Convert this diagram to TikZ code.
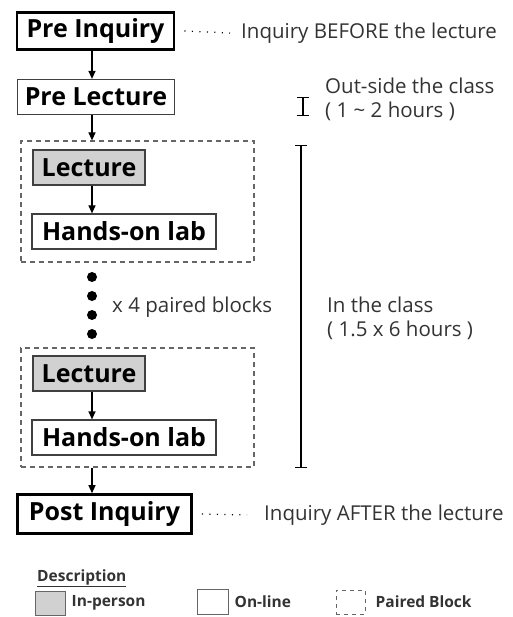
\documentclass[tikz,border=0pt]{standalone}
\usepackage{fontspec}
\setmainfont{Open Sans}
\usetikzlibrary{arrows.meta,positioning}

\begin{document}
\begin{tikzpicture}[x=1pt,y=-1pt,
    inqbox/.style={draw,line width=2.6pt,inner sep=0pt,minimum width=157pt,minimum height=37pt,
      font=\fontsize{25}{28}\selectfont\bfseries},
    onbox/.style={draw=black!75,line width=1.2pt,inner sep=0pt,minimum height=35pt,
      font=\fontsize{25}{28}\selectfont\bfseries},
    inbox/.style={onbox,fill=black!18},
    pairbox/.style={draw=black!60,line width=1.2pt,dash pattern=on 5pt off 4pt,inner sep=0pt},
    note/.style={inner sep=0pt,anchor=west,text=black!80,font=\fontsize{20.5}{24}\selectfont},
    small/.style={inner sep=0pt,anchor=west,text=black!80,font=\fontsize{15.5}{18}\selectfont\bfseries},
    flow/.style={line width=1.2pt,-{Triangle[length=8pt,width=7pt]}},
    dots/.style={line width=1.2pt,dash pattern=on 1.2pt off 6.3pt},
    bar/.style={line width=1.3pt,{Bar[width=12pt]}-{Bar[width=12pt]}}
  ]
  \useasboundingbox (0,0) rectangle (512,617);

  % boxes of the flow
  \node[inqbox] (pi) at (95.5,31) {Pre Inquiry};
  \node[onbox,minimum width=157pt] (pl) at (96,97) {Pre Lecture};

  \node[pairbox,minimum width=233pt,minimum height=121pt] (pa1) at (137.5,201.5) {};
  \node[inbox,minimum width=112pt] (le1) at (89,167.5) {Lecture};
  \node[onbox,minimum width=184pt] (ha1) at (124,231.5) {Hands-on lab};

  \node[pairbox,minimum width=233pt,minimum height=119pt] (pa2) at (137.5,407.5) {};
  \node[inbox,minimum width=112pt] (le2) at (89,373.5) {Lecture};
  \node[onbox,minimum width=184pt] (ha2) at (124,437.5) {Hands-on lab};

  \node[inqbox,minimum width=174pt,minimum height=39pt] (po) at (104.5,514) {Post Inquiry};

  % arrows
  \coordinate (ax) at (92,0);
  \draw[flow] (pi.south -| ax) -- (pl.north -| ax);
  \draw[flow] (pl.south -| ax) -- (pa1.north -| ax);
  \draw[flow] (le1.south -| ax) -- (ha1.north -| ax);
  \draw[flow] (le2.south -| ax) -- (ha2.north -| ax);
  \draw[flow] (pa2.south -| ax) -- (po.north -| ax);

  % repeated blocks
  \foreach \i/\y in {1/277,2/296,3/315,4/334}
    \node[circle,fill,inner sep=0pt,minimum size=10pt] (d\i) at (92,\y) {};
  \node[note] (rep) at (112,307) {x 4 paired blocks};

  % notes on the right
  \node[note] (bt) at (241,33) {Inquiry BEFORE the lecture};
  \draw[dots] ([xshift=9pt]pi.east) -- ([xshift=-11pt]bt.west);
  \node[note] (at) at (264,515) {Inquiry AFTER the lecture};
  \draw[dots] ([xshift=9pt]po.east) -- ([xshift=-17pt]at.west);

  \coordinate (o1) at (303,97);
  \coordinate (o2) at (303,116);
  \draw[bar] (o1) -- (o2);
  \node[note] (ot1) at (325,86) {Out-side the class};
  \node[note] (ot2) at (325,111) {( 1 \textasciitilde{} 2 hours )};

  \coordinate (c1) at (301,145);
  \coordinate (c2) at (301,468);
  \draw[bar] (c1) -- (c2);
  \node[note] (it1) at (327,305) {In the class};
  \node[note] (it2) at (327,330) {( 1.5 x 6 hours )};

  % legend
  \node[small] (desc) at (37,578) {\underline{Description}};
  \node[draw=black!60,fill=black!18,line width=1pt,minimum width=30pt,minimum height=24pt] (lg1) at (50,603) {};
  \node[small,right=6pt of lg1] (lt1) {In-person};
  \node[draw=black!60,line width=1pt,minimum width=31pt,minimum height=25pt] (lg2) at (212.5,602) {};
  \node[small,right=6pt of lg2] (lt2) {On-line};
  \node[pairbox,line width=1pt,dash pattern=on 4pt off 4pt,minimum width=29pt,minimum height=24pt] (lg3) at (350.5,602) {};
  \node[small,right=10pt of lg3] (lt3) {Paired Block};
\end{tikzpicture}
\end{document}
